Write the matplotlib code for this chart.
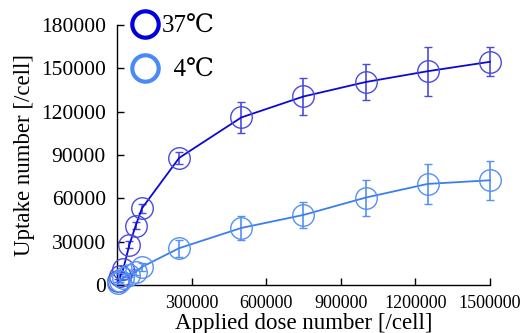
import matplotlib
matplotlib.use("Agg")
import matplotlib.pyplot as plt
from matplotlib.lines import Line2D

# ---- data ----
dose = [5000, 12500, 25000, 50000, 75000, 100000, 250000, 500000, 750000, 1000000, 1250000, 1500000]
uptake_37 = [3000, 6000, 11000, 28000, 41000, 53000, 88000, 116000, 130500, 140500, 148000, 154500]
err_37 = [1000, 1500, 2000, 2500, 2500, 3000, 4000, 10500, 12500, 12500, 17000, 10000]
uptake_4 = [1500, 3000, 5000, 7000, 9000, 12500, 25500, 39500, 48500, 60500, 70000, 72500]
err_4 = [500, 800, 1000, 1500, 2000, 2500, 6000, 8000, 9000, 12500, 14000, 13500]
series_labels = ["37\u2103", "  4\u2103"]
xticks = [300000, 600000, 900000, 1200000, 1500000]
yticks = [0, 30000, 60000, 90000, 120000, 150000, 180000]

fam = ["Liberation Serif", "DejaVu Serif"]
plt.rcParams["font.family"] = fam

fig = plt.figure(figsize=(5.24, 3.33), dpi=100)
ax = fig.add_axes([0.2233, 0.1441, 0.935 - 0.2233, 0.925 - 0.1441])

c37_line = "#0a0ad0"
c37_mk = "#4a4ae0"
c4_line = "#3a7ef0"
c4_mk = "#5590f5"

ax.errorbar(dose, uptake_37, yerr=err_37, color=c37_line, lw=1.3, ecolor=c37_mk,
            elinewidth=1.2, capsize=3, capthick=1.2, marker="o", ms=15.5,
            mfc="none", mec=c37_mk, mew=1.0, clip_on=False, zorder=3)
ax.errorbar(dose, uptake_4, yerr=err_4, color=c4_line, lw=1.3, ecolor=c4_mk,
            elinewidth=1.2, capsize=3, capthick=1.2, marker="o", ms=15.5,
            mfc="none", mec=c4_mk, mew=1.0, clip_on=False, zorder=3)

ax.set_xlim(0, 1500000)
ax.set_ylim(0, 180000)
ax.set_xticks(xticks)
ax.set_yticks(yticks)
ax.set_xticklabels([str(v) for v in xticks], fontsize=13)
ax.set_yticklabels([str(v) for v in yticks], fontsize=15.5)
ax.tick_params(axis="both", direction="in", length=5, width=1, color="black")
ax.tick_params(axis="y", pad=8)
ax.tick_params(axis="x", pad=7)
for s in ["top", "right"]:
    ax.spines[s].set_visible(False)
for s in ["left", "bottom"]:
    ax.spines[s].set_linewidth(1)

ax.set_xlabel("Applied dose number [/cell]", fontsize=16.5, labelpad=1)
ax.set_ylabel("Uptake number [/cell]", fontsize=16.5, labelpad=4)

handles = [
    Line2D([], [], ls="none", marker="o", ms=19, mfc="none", mec="#0000dd", mew=3),
    Line2D([], [], ls="none", marker="o", ms=19, mfc="none", mec="#4a8af8", mew=3),
]
leg = ax.legend(handles, series_labels, loc="upper left", bbox_to_anchor=(0.015, 1.075),
                frameon=False, fontsize=18, handlelength=1.0, handletextpad=0.15,
                labelspacing=0.85, borderaxespad=0)

fig.savefig("out.png", dpi=100)
